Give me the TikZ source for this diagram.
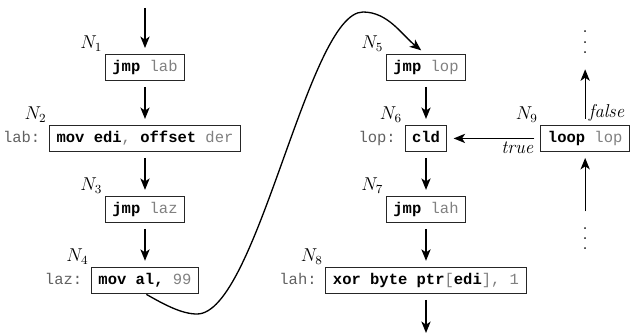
\documentclass[tikz,border=0pt]{standalone}
\usepackage{fontspec}
\setmonofont{Liberation Mono}
\usetikzlibrary{arrows.meta,positioning}

\colorlet{opdgray}{black!50}
\colorlet{labgray}{black!62}
\newcommand{\kw}[1]{\textbf{#1}}
\newcommand{\opd}[1]{\textcolor{opdgray}{#1}}
\newcommand{\moredots}{\vbox{\baselineskip=6.6pt\lineskiplimit=-\maxdimen
  \hbox{.}\hbox{.}\hbox{.}}}

\begin{document}
\begin{tikzpicture}[x=0.645pt,y=0.645pt,
  node distance=28.6pt,
  instr/.style={draw=black!85,line width=0.65pt,font=\ttfamily,inner xsep=4.5pt,
    minimum height=16.5pt,text height=7pt,text depth=2pt},
  idx/.style={font=\large,inner sep=1.5pt},
  tag/.style={font=\ttfamily,text=labgray,inner xsep=5.5pt,text height=7pt,text depth=2pt},
  cond/.style={font=\large\itshape,inner sep=2pt},
  ellip/.style={font=\large,inner sep=0pt,outer ysep=6.3pt},
  flow/.style={-{Stealth[length=2.6mm,width=2.1mm,inset=0.7mm]},line width=0.85pt,
    shorten >=4pt,shorten <=4pt}]
  \path[use as bounding box] (0,0) rectangle (633,-336);

  % Left column: jump chain down to laz.
  \coordinate (entry) at (145,-8);
  \node[instr,label={[idx]north west:$N_1$}] (n1) at (145,-67.5) {\kw{jmp} \opd{lab}};
  \node[instr,below=of n1,label={[idx]north west:$N_2$},label={[tag]west:{lab:}}] (n2)
    {\kw{mov edi}\opd{,} \kw{offset} \opd{der}};
  \node[instr,below=of n2,label={[idx]north west:$N_3$}] (n3) {\kw{jmp} \opd{laz}};
  \node[instr,below=of n3,label={[idx]north west:$N_4$},label={[tag]west:{laz:}}] (n4)
    {\kw{mov al,} \opd{99}};

  % Middle column: lop and lah.
  \node[instr,label={[idx]north west:$N_5$}] (n5) at (426,-67.5) {\kw{jmp} \opd{lop}};
  \node[instr,below=of n5,label={[idx]north west:$N_6$},label={[tag]west:{lop:}}] (n6)
    {\kw{cld}};
  \node[instr,below=of n6,label={[idx]north west:$N_7$}] (n7) {\kw{jmp} \opd{lah}};
  \node[instr,below=of n7,label={[idx]north west:$N_8$},label={[tag]west:{lah:}}] (n8)
    {\kw{xor byte ptr}\opd{[}\kw{edi}\opd{], 1}};
  \coordinate (exit) at (426,-333);

  % Right: the loop instruction and its two branches.
  \node[instr,right=60pt of n6,label={[idx]north west:$N_9$}] (n9) {\kw{loop} \opd{lop}};
  \node[ellip,above=40pt of n9] (up) {\moredots};
  \node[ellip,below=42.5pt of n9] (down) {\moredots};

  \draw[flow,shorten <=0pt] (entry) -- (n1);
  \draw[flow] (n1) -- (n2);
  \draw[flow] (n2) -- (n3);
  \draw[flow] (n3) -- (n4);
  \draw[flow] (n5) -- (n6);
  \draw[flow] (n6) -- (n7);
  \draw[flow] (n7) -- (n8);
  \draw[flow,shorten >=0pt] (n8) -- (exit);
  \draw[flow] (n9) -- node[cond,pos=0.25,below] {true} (n6);
  \draw[flow] (n9) -- node[cond,pos=0.2,right] {false} (up);
  \draw[flow] (down) -- (n9);

  % jump from laz over to N5
  \coordinate (dip) at (197,-314);
  \coordinate (crest) at (363,-12);
  \draw[flow,shorten <=1pt] (n4.south) .. controls (165,-305) and (182,-314) .. (dip)
    .. controls (257,-314) and (308,-12) .. (crest)
    .. controls (388,-12) and (402,-35) .. (n5.north);
\end{tikzpicture}
\end{document}
